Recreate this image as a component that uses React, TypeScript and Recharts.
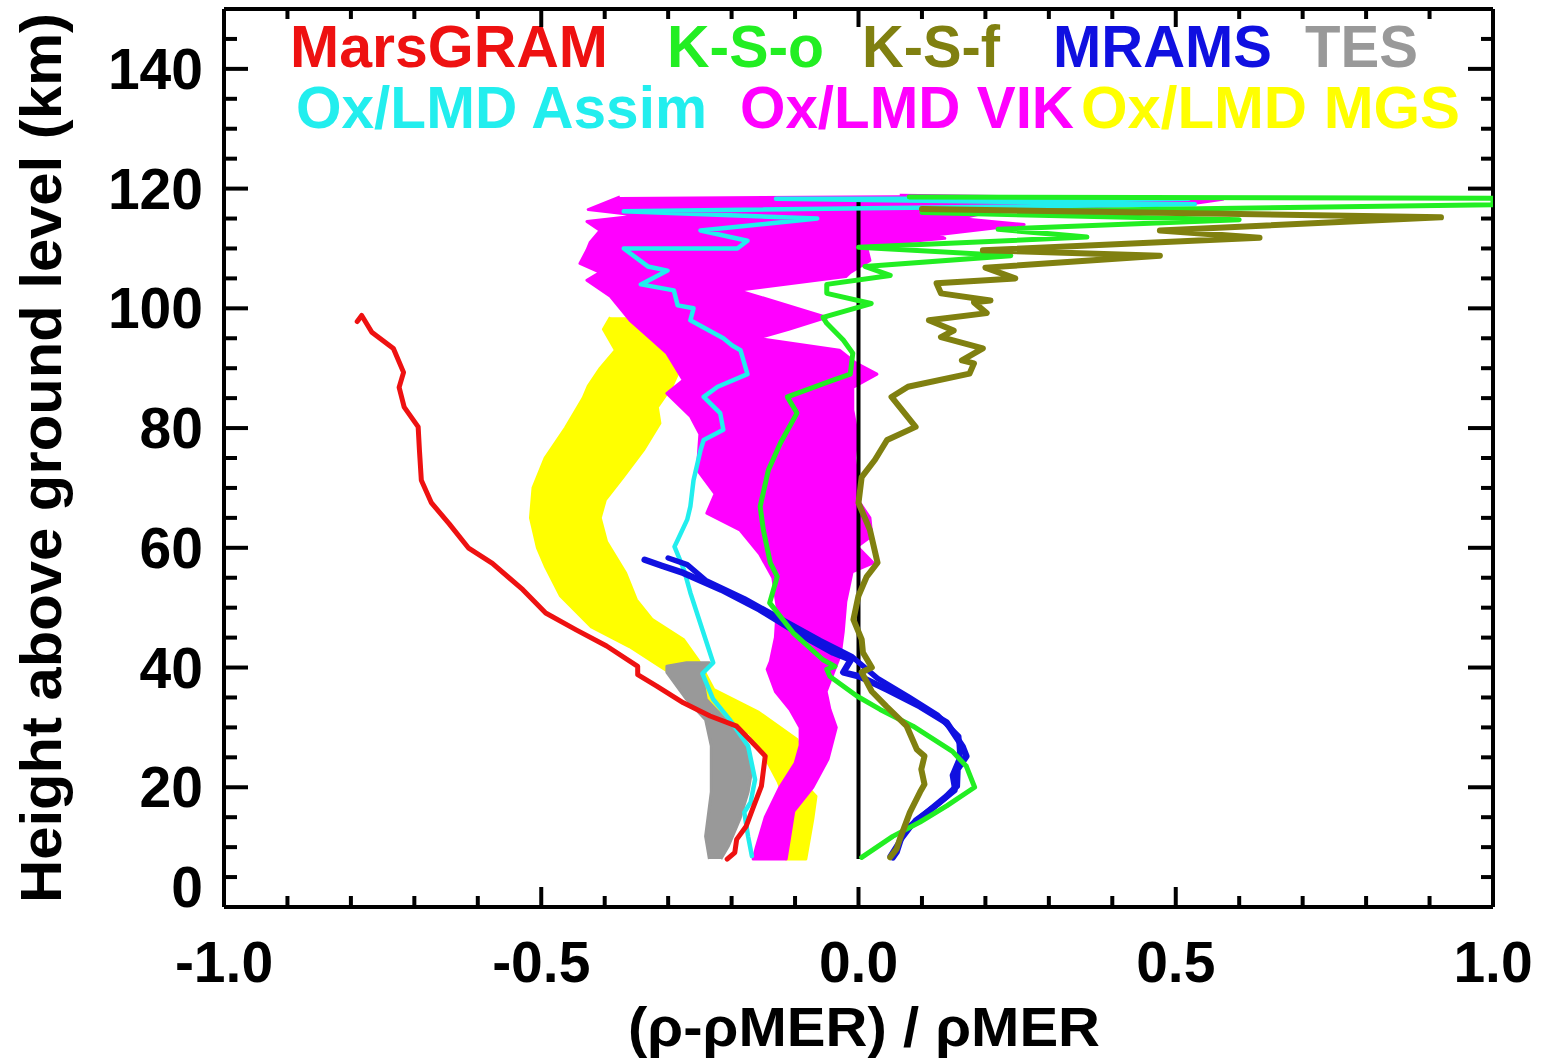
import React from 'react';
import { ScatterChart, Scatter, XAxis, YAxis } from 'recharts';

// each point: [(rho - rhoMER) / rhoMER, height above ground level in km]
type Pt = [number, number];

const X_TICKS = [-1, -0.9, -0.8, -0.7, -0.6, -0.5, -0.4, -0.3, -0.2, -0.1, 0, 0.1, 0.2, 0.3, 0.4, 0.5, 0.6, 0.7, 0.8, 0.9, 1];
const Y_TICKS = [0, 5, 10, 15, 20, 25, 30, 35, 40, 45, 50, 55, 60, 65, 70, 75, 80, 85, 90, 95, 100, 105, 110, 115, 120, 125, 130, 135, 140, 145];
const X_MAJOR = [-1, -0.5, 0, 0.5, 1];
const Y_MAJOR = [0, 20, 40, 60, 80, 100, 120, 140];

const MARSGRAM: Pt[] = [
  [-0.79, 97.8], [-0.783, 98.8], [-0.767, 96], [-0.733, 93.3], [-0.717, 89.3], [-0.724, 86.8], [-0.716, 83.5],
  [-0.694, 80.2], [-0.692, 76.3], [-0.689, 71.3], [-0.673, 67.5], [-0.645, 64], [-0.615, 60], [-0.577, 57.4],
  [-0.529, 53], [-0.493, 49.1], [-0.445, 46.3], [-0.397, 43.6], [-0.348, 40.2], [-0.348, 38.8], [-0.318, 36.9],
  [-0.276, 34.1], [-0.234, 31.9], [-0.192, 30.2], [-0.162, 26.9], [-0.147, 25.2], [-0.153, 20.2], [-0.165, 16.9],
  [-0.177, 13.5], [-0.192, 11.3], [-0.195, 9.1], [-0.207, 8],
];

const ASSIM: Pt[] = [
  [0.52, 118.3], [-0.13, 118.3], [0.53, 117.4], [-0.37, 116.2], [-0.065, 115], [-0.249, 113], [-0.175, 111.3],
  [-0.191, 110], [-0.37, 110], [-0.332, 107], [-0.301, 106.3], [-0.343, 104], [-0.291, 103], [-0.285, 100.5],
  [-0.26, 100], [-0.265, 98], [-0.213, 95], [-0.199, 93.8], [-0.186, 93], [-0.175, 89], [-0.222, 86.9],
  [-0.244, 85.2], [-0.218, 82.5], [-0.213, 79.7], [-0.244, 78], [-0.249, 76.3], [-0.26, 71.3], [-0.265, 66.9],
  [-0.27, 64.7], [-0.285, 61.3], [-0.29, 60.2], [-0.275, 56.3], [-0.265, 52.5], [-0.246, 46.3], [-0.229, 40.8],
  [-0.246, 39], [-0.229, 34.7], [-0.203, 31.3], [-0.174, 26.9], [-0.163, 21.3], [-0.17, 17.5], [-0.18, 15.8],
  [-0.174, 11.8], [-0.168, 8.5],
];

const KSO: Pt[] = [
  [0.08, 118.6], [1.0, 118.4], [1.0, 117.3], [0.1, 116], [0.6, 114.8], [0.22, 113.2], [0.36, 111.9], [0.0, 110.2],
  [0.24, 108.8], [0.01, 107], [0.05, 105.5], [-0.05, 104], [-0.05, 102.5], [0.02, 100.8], [-0.056, 98.5],
  [-0.05, 97.5], [-0.024, 94.7], [-0.009, 92.5], [-0.013, 89], [-0.04, 88], [-0.112, 85.2], [-0.097, 82.5],
  [-0.123, 77.5], [-0.142, 73], [-0.155, 66.9], [-0.15, 63], [-0.139, 57.5], [-0.128, 55.2], [-0.14, 50.8],
  [-0.103, 45.8], [-0.056, 41.3], [-0.037, 40.2], [-0.05, 39.7], [-0.045, 38.5], [-0.002, 35.2], [0.034, 33],
  [0.086, 30.2], [0.148, 26], [0.17, 23.5], [0.183, 20], [0.139, 16.9], [0.097, 14.2], [0.054, 11.8], [0.005, 8.3],
];

const KSF: Pt[] = [
  [0.1, 116.6], [0.918, 115.2], [0.475, 113], [0.632, 111.8], [0.196, 109.7], [0.475, 108.8], [0.2, 106.8],
  [0.247, 105], [0.123, 104.2], [0.13, 102.5], [0.208, 101.3], [0.182, 101], [0.202, 99.2], [0.111, 98],
  [0.15, 96.3], [0.13, 95.2], [0.196, 93.3], [0.163, 91.3], [0.182, 90.8], [0.175, 89.1], [0.078, 86.9],
  [0.052, 85.2], [0.09, 80.2], [0.045, 78], [0.026, 74.7], [0.005, 71.8], [0.0, 67.5], [0.018, 63], [0.03, 57.5],
  [0.013, 55.2], [0.0, 52], [-0.008, 48], [0.005, 44.7], [0.007, 42.5], [0.021, 40], [0.005, 39.2], [0.021, 36],
  [0.044, 33.5], [0.076, 30.2], [0.092, 26.3], [0.104, 25.2], [0.099, 23], [0.104, 20.5], [0.097, 19.2],
  [0.081, 15.8], [0.065, 11.3], [0.06, 9.7], [0.05, 8.3],
];

const MRAMS_A: Pt[] = [
  [-0.337, 58], [-0.31, 57], [-0.276, 55.8], [-0.216, 53], [-0.156, 49.7], [-0.096, 45.8], [-0.04, 42.5],
  [-0.012, 41.3], [-0.024, 39.2], [0.002, 38.5], [0.045, 36.3], [0.097, 33.5], [0.139, 30.8], [0.164, 26.8],
  [0.17, 25.2], [0.156, 23], [0.155, 20.2], [0.139, 18.5], [0.108, 15.8], [0.07, 12.5], [0.06, 9.2], [0.054, 8.3],
];
const MRAMS_B: Pt[] = [
  [-0.3, 58.3], [-0.27, 57.2], [-0.24, 54.5], [-0.18, 51.5], [-0.12, 48], [-0.06, 44.5], [-0.01, 41.8],
  [0.03, 38.2], [0.08, 35], [0.125, 32], [0.158, 28.5], [0.16, 25], [0.148, 22], [0.152, 19.5], [0.125, 17.2],
  [0.09, 14.5], [0.065, 11], [0.05, 8.5],
];

// envelopes of the ensembles: left edge top->bottom, right edge bottom->top
const TES_RIGHT: Pt[] = [
  [-0.235, 40.8], [-0.246, 38.5], [-0.24, 34.7], [-0.21, 31.3], [-0.174, 26.9], [-0.168, 23], [-0.174, 19.2],
  [-0.187, 14.7], [-0.205, 10.2], [-0.217, 8],
];
const TES_LEFT: Pt[] = [
  [-0.235, 8], [-0.241, 11.8], [-0.232, 19.2], [-0.232, 26.9], [-0.241, 31.3], [-0.271, 34.7], [-0.302, 39.2],
  [-0.302, 40.2], [-0.271, 40.8],
];

const MGS_LEFT: Pt[] = [
  [-0.391, 98.5], [-0.402, 96.5], [-0.383, 93], [-0.407, 90], [-0.426, 87], [-0.434, 85], [-0.462, 80],
  [-0.494, 75], [-0.513, 70], [-0.517, 65], [-0.506, 60], [-0.494, 57], [-0.47, 52], [-0.421, 46.8],
  [-0.361, 43.5], [-0.313, 40.2], [-0.265, 37], [-0.24, 34], [-0.217, 31.3], [-0.171, 29], [-0.147, 25],
  [-0.127, 21], [-0.116, 18], [-0.114, 12], [-0.114, 8],
];
const MGS_RIGHT: Pt[] = [
  [-0.083, 8], [-0.072, 14.7], [-0.067, 18.5], [-0.092, 21.3], [-0.091, 25.8], [-0.097, 28], [-0.157, 32.5],
  [-0.228, 36.3], [-0.253, 41.3], [-0.276, 44.7], [-0.325, 48], [-0.35, 51.3], [-0.367, 55.8], [-0.397, 61],
  [-0.407, 65], [-0.399, 68], [-0.371, 71.8], [-0.339, 76.3], [-0.313, 80.8], [-0.317, 83.5], [-0.294, 87],
  [-0.281, 90], [-0.305, 93], [-0.328, 96], [-0.344, 98.5],
];

const VIK_LEFT: Pt[] = [
  [-0.376, 118.6], [-0.426, 116.5], [-0.344, 115.5], [-0.428, 114.5], [-0.407, 113], [-0.423, 111],
  [-0.428, 109.7], [-0.439, 107.5], [-0.407, 106], [-0.428, 104.7], [-0.391, 102], [-0.36, 98], [-0.328, 95],
  [-0.302, 92.5], [-0.276, 88], [-0.302, 85.8], [-0.265, 82], [-0.25, 79], [-0.254, 73], [-0.226, 69],
  [-0.239, 65.8], [-0.187, 63], [-0.156, 59], [-0.135, 55], [-0.128, 50], [-0.131, 45], [-0.139, 41],
  [-0.144, 39.7], [-0.131, 36], [-0.108, 33], [-0.092, 30], [-0.092, 27], [-0.1, 24], [-0.124, 20],
  [-0.147, 15], [-0.161, 10], [-0.166, 8],
];
const VIK_RIGHT: Pt[] = [
  [-0.114, 8], [-0.108, 12], [-0.102, 16], [-0.072, 20], [-0.048, 24.7], [-0.035, 30], [-0.045, 33],
  [-0.051, 36], [-0.04, 39], [-0.029, 42], [-0.024, 46], [-0.02, 51], [-0.01, 56], [0.023, 57.5], [-0.002, 60.2],
  [0.021, 62], [0.018, 65], [-0.001, 68], [-0.002, 71.3], [-0.006, 75], [-0.002, 79], [-0.009, 83],
  [-0.009, 86.8], [0.029, 89], [-0.006, 91], [-0.03, 93], [-0.16, 95], [-0.11, 96.5], [-0.05, 98.5],
  [-0.19, 103], [-0.02, 105.3], [-0.013, 106], [0.018, 108], [0.012, 110.5], [0.136, 111.7], [0.124, 112.3],
  [0.261, 114], [0.16, 115], [0.223, 116.5], [0.528, 117.5], [0.574, 118.2], [0.065, 118.9],
];

const ZERO_LINE: Pt[] = [[0, 8], [0, 118]];

const LEGEND_ROW1 = ['MarsGRAM', 'K-S-o', 'K-S-f', 'MRAMS', 'TES'];
const LEGEND_ROW2 = ['Ox/LMD Assim', 'Ox/LMD VIK', 'Ox/LMD MGS'];

const COLORS: Record<string, string> = {
  MarsGRAM: '#ee1111',
  'K-S-o': '#22ee22',
  'K-S-f': '#808010',
  MRAMS: '#1010e0',
  TES: '#999999',
  'Ox/LMD Assim': '#22eeee',
  'Ox/LMD VIK': '#ff00ff',
  'Ox/LMD MGS': '#ffff00',
};

const FONT = '"Liberation Sans", Arial, Helvetica, sans-serif';

const toData = (pts: Pt[]) => pts.map(([x, y]) => ({ x, y }));
const band = (left: Pt[], right: Pt[]) => toData([...left, ...right]);
const isMajor = (v: number, list: number[]) => list.some((m) => Math.abs(m - v) < 1e-6);
const noPoint = () => <g />;

const BottomTick = (p: any) => {
  const { x, y, payload } = p;
  const major = isMajor(payload.value, X_MAJOR);
  return (
    <g>
      <line x1={x} x2={x} y1={y} y2={y - (major ? 20 : 11)} stroke="#000" strokeWidth={4} />
      {major && (
        <text x={x} y={y + 75} textAnchor="middle" fontFamily={FONT} fontWeight="bold" fontSize={57} fill="#000">
          {payload.value.toFixed(1)}
        </text>
      )}
    </g>
  );
};

const TopTick = (p: any) => {
  const { x, y, payload } = p;
  const major = isMajor(payload.value, X_MAJOR);
  return <line x1={x} x2={x} y1={y} y2={y + (major ? 18 : 10)} stroke="#000" strokeWidth={4} />;
};

const LeftTick = (p: any) => {
  const { x, y, payload } = p;
  const major = isMajor(payload.value, Y_MAJOR);
  return (
    <g>
      <line x1={x} x2={x + (major ? 24 : 13)} y1={y} y2={y} stroke="#000" strokeWidth={4} />
      {major && (
        <text x={x - 21} y={payload.value === 0 ? y : y + 20} textAnchor="end" fontFamily={FONT} fontWeight="bold" fontSize={57} fill="#000">
          {payload.value}
        </text>
      )}
    </g>
  );
};

const RightTick = (p: any) => {
  const { x, y, payload } = p;
  const major = isMajor(payload.value, Y_MAJOR);
  return <line x1={x} x2={x - (major ? 25 : 12)} y1={y} y2={y} stroke="#000" strokeWidth={4} />;
};

const AXIS_LINE = { stroke: '#000', strokeWidth: 4 };

const lines = [
  { key: 'assim', pts: ASSIM, color: COLORS['Ox/LMD Assim'], w: 4.5 },
  { key: 'marsgram', pts: MARSGRAM, color: COLORS.MarsGRAM, w: 5 },
  { key: 'mramsA', pts: MRAMS_A, color: COLORS.MRAMS, w: 6.5 },
  { key: 'mramsB', pts: MRAMS_B, color: COLORS.MRAMS, w: 5.5 },
  { key: 'kso', pts: KSO, color: COLORS['K-S-o'], w: 5 },
  { key: 'ksf', pts: KSF, color: COLORS['K-S-f'], w: 6 },
];

const bands = [
  { key: 'mgs', pts: band(MGS_LEFT, MGS_RIGHT), color: COLORS['Ox/LMD MGS'] },
  { key: 'vik', pts: band(VIK_LEFT, VIK_RIGHT), color: COLORS['Ox/LMD VIK'] },
  { key: 'tes', pts: band(TES_LEFT, TES_RIGHT), color: COLORS.TES },
];

const row1Layout = [
  { x: 290, w: 318 },
  { x: 667, w: 157 },
  { x: 862, w: 138 },
  { x: 1053, w: 219 },
  { x: 1305, w: 113 },
];
const row2Layout = [
  { x: 296, w: 411 },
  { x: 740, w: 334 },
  { x: 1081, w: 379 },
];

const legendText = (name: string, x: number, y: number, w: number) => (
  <text
    key={name}
    x={x}
    y={y}
    textLength={w}
    lengthAdjust="spacingAndGlyphs"
    fontFamily={FONT}
    fontWeight="bold"
    fontSize={59}
    fill={COLORS[name]}
  >
    {name}
  </text>
);

const axisCommon = {
  type: 'number' as const,
  interval: 0,
  tickSize: 0,
  tickMargin: 0,
  tickLine: false,
  axisLine: AXIS_LINE,
  allowDataOverflow: true,
};

export default function App() {
  return (
    <div style={{ position: 'absolute', left: 0, top: 0, background: '#fff' }}>
      <ScatterChart width={1550} height={1061} margin={{ top: 8, right: 56, bottom: 153, left: 223 }}>
        <XAxis
          {...axisCommon}
          xAxisId="b"
          dataKey="x"
          domain={[-1, 1]}
          ticks={X_TICKS}
          height={1}
          tick={(p: any) => <BottomTick {...p} />}
        />
        <XAxis
          {...axisCommon}
          xAxisId="t"
          orientation="top"
          dataKey="x"
          domain={[-1, 1]}
          ticks={X_TICKS}
          height={1}
          tick={(p: any) => <TopTick {...p} />}
        />
        <YAxis
          {...axisCommon}
          yAxisId="l"
          dataKey="y"
          domain={[0, 150]}
          ticks={Y_TICKS}
          width={1}
          tick={(p: any) => <LeftTick {...p} />}
        />
        <YAxis
          {...axisCommon}
          yAxisId="r"
          orientation="right"
          dataKey="y"
          domain={[0, 150]}
          ticks={Y_TICKS}
          width={1}
          tick={(p: any) => <RightTick {...p} />}
        />

        {bands.map((b) => (
          <Scatter
            key={b.key}
            xAxisId="b"
            yAxisId="l"
            data={b.pts}
            line={{ stroke: b.color, strokeWidth: 3, fill: b.color, strokeLinejoin: 'round' }}
            lineJointType="linear"
            shape={noPoint}
            isAnimationActive={false}
          />
        ))}

        <Scatter
          xAxisId="t"
          yAxisId="r"
          data={toData(ZERO_LINE)}
          line={{ stroke: '#000', strokeWidth: 4 }}
          lineJointType="linear"
          shape={noPoint}
          isAnimationActive={false}
        />

        {lines.map((l) => (
          <Scatter
            key={l.key}
            xAxisId="b"
            yAxisId="l"
            data={toData(l.pts)}
            line={{ stroke: l.color, strokeWidth: l.w, strokeLinejoin: 'round', strokeLinecap: 'round' }}
            lineJointType="linear"
            shape={noPoint}
            isAnimationActive={false}
          />
        ))}

        {LEGEND_ROW1.map((n, i) => legendText(n, row1Layout[i].x, 67, row1Layout[i].w))}
        {LEGEND_ROW2.map((n, i) => legendText(n, row2Layout[i].x, 128, row2Layout[i].w))}

        <text
          transform="rotate(-90)"
          x={-458}
          y={61}
          textAnchor="middle"
          textLength={890}
          lengthAdjust="spacingAndGlyphs"
          fontFamily={FONT}
          fontWeight="bold"
          fontSize={58}
          fill="#000"
        >
          Height above ground level (km)
        </text>
        <text
          x={864}
          y={1046}
          textAnchor="middle"
          textLength={472}
          lengthAdjust="spacingAndGlyphs"
          fontFamily={FONT}
          fontWeight="bold"
          fontSize={56}
          fill="#000"
        >
          (ρ-ρMER) / ρMER
        </text>
      </ScatterChart>
    </div>
  );
}
